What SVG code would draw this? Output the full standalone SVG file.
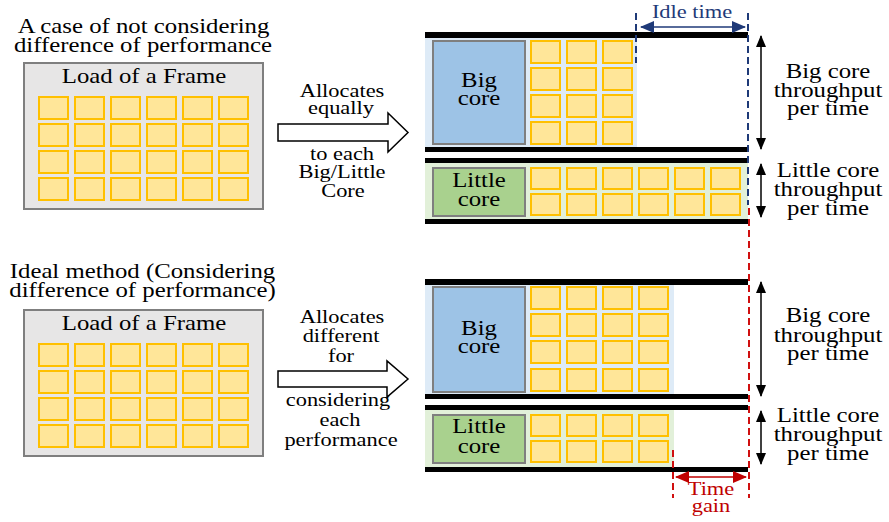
<svg xmlns="http://www.w3.org/2000/svg" width="889" height="522" viewBox="0 0 889 522">
<defs>
<style>
text{font-family:"Liberation Serif","Times New Roman",serif;text-anchor:middle;fill:#000}
.t21{font-size:21px}
.t19{font-size:19px}
.frame{fill:#e7e6e6;stroke:#7f7f7f;stroke-width:2}
.sq{fill:#ffe699;stroke:#ffc000;stroke-width:2}
.bar{fill:#000}
.bigbg{fill:#deebf7}
.litbg{fill:#e2f0d9}
.bigc{fill:#9dc3e6;stroke:#7f7f7f;stroke-width:2}
.litc{fill:#a9d18e;stroke:#7f7f7f;stroke-width:2}
.bigarrow{fill:#fff;stroke:#000;stroke-width:1.5}
.navyd{stroke:#1f3a78;stroke-width:2;stroke-dasharray:7,4;fill:none}
.redd{stroke:#d01010;stroke-width:2;stroke-dasharray:7,4;fill:none}
.blk{stroke:#000;stroke-width:1.5;fill:none}
.navy{fill:#1f3a78}
.red{fill:#c00000}
</style>
<marker id="ab" viewBox="0 0 12 12" refX="11" refY="6" markerWidth="12" markerHeight="12" markerUnits="userSpaceOnUse" orient="auto-start-reverse"><path d="M0,1 L12,6 L0,11 Z" fill="#000"/></marker>
<marker id="an" viewBox="0 0 14 12" refX="13" refY="6" markerWidth="14" markerHeight="12" markerUnits="userSpaceOnUse" orient="auto-start-reverse"><path d="M0,0 L14,6 L0,12 Z" fill="#1f3a78"/></marker>
<marker id="ar" viewBox="0 0 14 12" refX="13" refY="6" markerWidth="14" markerHeight="12" markerUnits="userSpaceOnUse" orient="auto-start-reverse"><path d="M0,0 L14,6 L0,12 Z" fill="#c00000"/></marker>
<g id="grid6x4">
<rect class="sq" x="39" y="0" width="29" height="22"/><rect class="sq" x="75" y="0" width="29" height="22"/><rect class="sq" x="111" y="0" width="29" height="22"/><rect class="sq" x="147" y="0" width="29" height="22"/><rect class="sq" x="183" y="0" width="29" height="22"/><rect class="sq" x="219" y="0" width="29" height="22"/>
<rect class="sq" x="39" y="27" width="29" height="22"/><rect class="sq" x="75" y="27" width="29" height="22"/><rect class="sq" x="111" y="27" width="29" height="22"/><rect class="sq" x="147" y="27" width="29" height="22"/><rect class="sq" x="183" y="27" width="29" height="22"/><rect class="sq" x="219" y="27" width="29" height="22"/>
<rect class="sq" x="39" y="54" width="29" height="22"/><rect class="sq" x="75" y="54" width="29" height="22"/><rect class="sq" x="111" y="54" width="29" height="22"/><rect class="sq" x="147" y="54" width="29" height="22"/><rect class="sq" x="183" y="54" width="29" height="22"/><rect class="sq" x="219" y="54" width="29" height="22"/>
<rect class="sq" x="39" y="81" width="29" height="22"/><rect class="sq" x="75" y="81" width="29" height="22"/><rect class="sq" x="111" y="81" width="29" height="22"/><rect class="sq" x="147" y="81" width="29" height="22"/><rect class="sq" x="183" y="81" width="29" height="22"/><rect class="sq" x="219" y="81" width="29" height="22"/>
</g>
</defs>
<rect width="889" height="522" fill="#fff"/>

<!-- Top section -->
<g id="title-top">
<text class="t21" transform="translate(143.5,33) scale(1.18,1)">A case of not considering</text>
<text class="t21" transform="translate(143,52) scale(1.18,1)">difference of performance</text>
</g>
<g id="frame-top">
<rect class="frame" x="24" y="63" width="239" height="146"/>
<text class="t21" transform="translate(144,83) scale(1.18,1)">Load of a Frame</text>
<use href="#grid6x4" y="97"/>
</g>
<g id="alloc-top">
<polygon class="bigarrow" points="278,124 388,124 388,113 408,132.5 388,152 388,141 278,141"/>
<text class="t19" transform="translate(342,97) scale(1.18,1)">Allocates</text>
<text class="t19" transform="translate(341,114) scale(1.18,1)">equally</text>
<text class="t19" transform="translate(342,160) scale(1.18,1)">to each</text>
<text class="t19" transform="translate(342,178) scale(1.18,1)">Big/Little</text>
<text class="t19" transform="translate(343,197) scale(1.18,1)">Core</text>
</g>
<g id="big-top">
<rect class="bigbg" x="425" y="38" width="212" height="109"/>
<rect class="bar" x="425" y="32" width="323" height="6"/>
<rect class="bar" x="425" y="147" width="323" height="5"/>
<rect class="bigc" x="433" y="41" width="92" height="103"/>
<text class="t21" transform="translate(479,87) scale(1.18,1)">Big</text>
<text class="t21" transform="translate(479,105) scale(1.18,1)">core</text>
<rect class="sq" x="531" y="41" width="29" height="22"/><rect class="sq" x="567" y="41" width="29" height="22"/><rect class="sq" x="603" y="41" width="29" height="22"/>
<rect class="sq" x="531" y="68" width="29" height="22"/><rect class="sq" x="567" y="68" width="29" height="22"/><rect class="sq" x="603" y="68" width="29" height="22"/>
<rect class="sq" x="531" y="95" width="29" height="22"/><rect class="sq" x="567" y="95" width="29" height="22"/><rect class="sq" x="603" y="95" width="29" height="22"/>
<rect class="sq" x="531" y="122" width="29" height="22"/><rect class="sq" x="567" y="122" width="29" height="22"/><rect class="sq" x="603" y="122" width="29" height="22"/>
</g>
<g id="little-top">
<rect class="litbg" x="425" y="163" width="323" height="56"/>
<rect class="bar" x="425" y="158" width="323" height="5"/>
<rect class="bar" x="425" y="219" width="323" height="5"/>
<rect class="litc" x="433" y="168" width="92" height="48"/>
<text class="t21" transform="translate(479,187) scale(1.18,1)">Little</text>
<text class="t21" transform="translate(479,206) scale(1.18,1)">core</text>
<rect class="sq" x="531" y="168" width="29" height="21"/><rect class="sq" x="567" y="168" width="29" height="21"/><rect class="sq" x="603" y="168" width="29" height="21"/><rect class="sq" x="639" y="168" width="29" height="21"/><rect class="sq" x="675" y="168" width="29" height="21"/><rect class="sq" x="711" y="168" width="29" height="21"/>
<rect class="sq" x="531" y="194" width="29" height="21"/><rect class="sq" x="567" y="194" width="29" height="21"/><rect class="sq" x="603" y="194" width="29" height="21"/><rect class="sq" x="639" y="194" width="29" height="21"/><rect class="sq" x="675" y="194" width="29" height="21"/><rect class="sq" x="711" y="194" width="29" height="21"/>
</g>
<g id="labels-top">
<text class="t21" transform="translate(828,78) scale(1.18,1)">Big core</text>
<text class="t21" transform="translate(828,97) scale(1.18,1)">throughput</text>
<text class="t21" transform="translate(828,115) scale(1.18,1)">per time</text>
<text class="t21" transform="translate(828,177) scale(1.18,1)">Little core</text>
<text class="t21" transform="translate(828,196) scale(1.18,1)">throughput</text>
<text class="t21" transform="translate(828,215) scale(1.18,1)">per time</text>
</g>
<g id="idle">
<text class="t19 navy" transform="translate(692,18) scale(1.18,1)" style="fill:#1f3a78">Idle time</text>
</g>

<!-- Bottom section -->
<g id="title-bottom">
<text class="t21" transform="translate(142.5,278) scale(1.18,1)">Ideal method (Considering</text>
<text class="t21" transform="translate(142.5,297) scale(1.18,1)">difference of performance)</text>
</g>
<g id="frame-bottom">
<rect class="frame" x="24" y="310" width="239" height="146"/>
<text class="t21" transform="translate(144,330) scale(1.18,1)">Load of a Frame</text>
<use href="#grid6x4" y="344"/>
</g>
<g id="alloc-bottom">
<polygon class="bigarrow" points="278,371 387,371 387,361 408,379 387,397 387,387 278,387"/>
<text class="t19" transform="translate(342,323) scale(1.18,1)">Allocates</text>
<text class="t19" transform="translate(341,342) scale(1.18,1)">different</text>
<text class="t19" transform="translate(341,362) scale(1.18,1)">for</text>
<text class="t19" transform="translate(338,406) scale(1.18,1)">considering</text>
<text class="t19" transform="translate(340,426) scale(1.18,1)">each</text>
<text class="t19" transform="translate(341,446) scale(1.18,1)">performance</text>
</g>
<g id="big-bottom">
<rect class="bigbg" x="425" y="285" width="249" height="109"/>
<rect class="bar" x="425" y="279" width="323" height="6"/>
<rect class="bar" x="425" y="394" width="323" height="5"/>
<rect class="bigc" x="433" y="287" width="92" height="105"/>
<text class="t21" transform="translate(479,335) scale(1.18,1)">Big</text>
<text class="t21" transform="translate(479,353) scale(1.18,1)">core</text>
<rect class="sq" x="531" y="287" width="29" height="22"/><rect class="sq" x="567" y="287" width="29" height="22"/><rect class="sq" x="603" y="287" width="29" height="22"/><rect class="sq" x="639" y="287" width="29" height="22"/>
<rect class="sq" x="531" y="314" width="29" height="22"/><rect class="sq" x="567" y="314" width="29" height="22"/><rect class="sq" x="603" y="314" width="29" height="22"/><rect class="sq" x="639" y="314" width="29" height="22"/>
<rect class="sq" x="531" y="341" width="29" height="22"/><rect class="sq" x="567" y="341" width="29" height="22"/><rect class="sq" x="603" y="341" width="29" height="22"/><rect class="sq" x="639" y="341" width="29" height="22"/>
<rect class="sq" x="531" y="369" width="29" height="22"/><rect class="sq" x="567" y="369" width="29" height="22"/><rect class="sq" x="603" y="369" width="29" height="22"/><rect class="sq" x="639" y="369" width="29" height="22"/>
</g>
<g id="little-bottom">
<rect class="litbg" x="425" y="410" width="249" height="57"/>
<rect class="bar" x="425" y="405" width="323" height="5"/>
<rect class="bar" x="425" y="467" width="323" height="5"/>
<rect class="litc" x="433" y="415" width="92" height="48"/>
<text class="t21" transform="translate(479,433) scale(1.18,1)">Little</text>
<text class="t21" transform="translate(479,453) scale(1.18,1)">core</text>
<rect class="sq" x="531" y="415" width="29" height="21"/><rect class="sq" x="567" y="415" width="29" height="21"/><rect class="sq" x="603" y="415" width="29" height="21"/><rect class="sq" x="639" y="415" width="29" height="21"/>
<rect class="sq" x="531" y="441" width="29" height="21"/><rect class="sq" x="567" y="441" width="29" height="21"/><rect class="sq" x="603" y="441" width="29" height="21"/><rect class="sq" x="639" y="441" width="29" height="21"/>
</g>
<g id="labels-bottom">
<text class="t21" transform="translate(828,322) scale(1.18,1)">Big core</text>
<text class="t21" transform="translate(828,342) scale(1.18,1)">throughput</text>
<text class="t21" transform="translate(828,360) scale(1.18,1)">per time</text>
<text class="t21" transform="translate(828,422) scale(1.18,1)">Little core</text>
<text class="t21" transform="translate(828,441) scale(1.18,1)">throughput</text>
<text class="t21" transform="translate(828,460) scale(1.18,1)">per time</text>
</g>
<g id="timegain">
<text class="t19" transform="translate(711,495) scale(1.18,1)" style="fill:#c00000">Time</text>
<text class="t19" transform="translate(711,512) scale(1.18,1)" style="fill:#c00000">gain</text>
</g>

<!-- Connectors -->
<g id="connectors">
<line class="navyd" x1="636" y1="13" x2="636" y2="63"/>
<line class="navyd" x1="748" y1="13" x2="748" y2="205"/>
<line x1="641" y1="27" x2="745" y2="27" stroke="#1f3a78" stroke-width="1.5" marker-start="url(#an)" marker-end="url(#an)"/>
<line class="redd" x1="749" y1="208" x2="749" y2="498"/>
<line class="redd" x1="673" y1="450" x2="673" y2="498"/>
<line x1="676" y1="477" x2="746" y2="477" stroke="#c00000" stroke-width="1.5" marker-start="url(#ar)" marker-end="url(#ar)"/>
<line class="blk" x1="761" y1="36" x2="761" y2="149" marker-start="url(#ab)" marker-end="url(#ab)"/>
<line class="blk" x1="761" y1="164" x2="761" y2="217" marker-start="url(#ab)" marker-end="url(#ab)"/>
<line class="blk" x1="761" y1="282" x2="761" y2="396" marker-start="url(#ab)" marker-end="url(#ab)"/>
<line class="blk" x1="761" y1="411" x2="761" y2="464" marker-start="url(#ab)" marker-end="url(#ab)"/>
</g>
</svg>
